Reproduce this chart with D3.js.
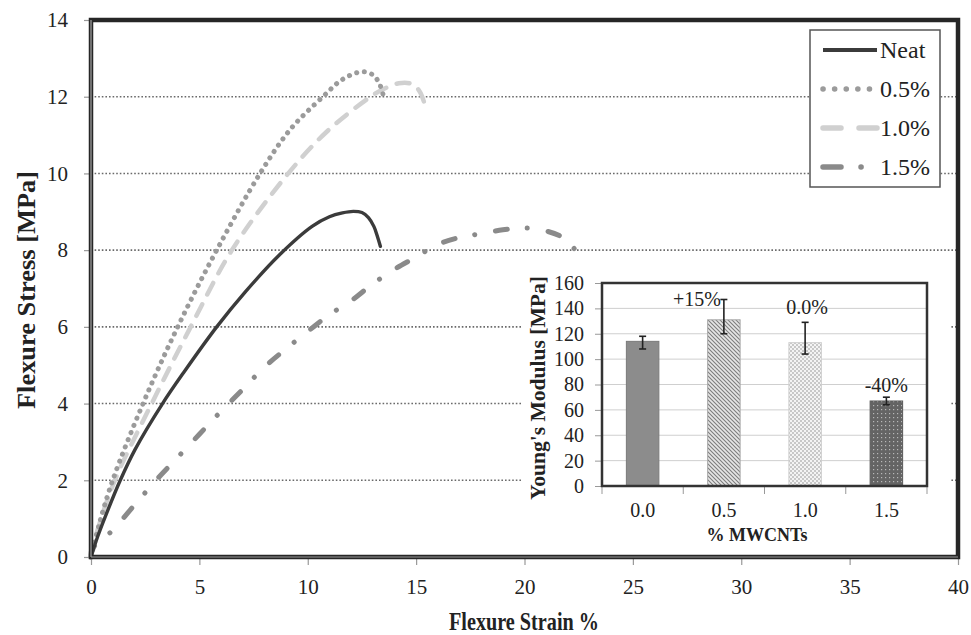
<!DOCTYPE html>
<html><head><meta charset="utf-8">
<script src="https://cdn.jsdelivr.net/npm/d3@7"></script>
<style>
html,body{margin:0;padding:0;background:#fff;}
svg{display:block;font-family:"Liberation Serif","Times New Roman",serif;}
svg text{font-family:"Liberation Serif","Times New Roman",serif;}
</style></head>
<body><svg id="c" width="971" height="635"></svg>
<script>
// ---------- data ----------
const seriesNames = ["Neat", "0.5%", "1.0%", "1.5%"];
const neatCurve = [[0,0],[0.3,0.52],[0.65,1.04],[1.35,2],[2.03,2.8],[3.3,4],[4.3,4.83],[5.8,6],[7.1,6.9],[8.7,7.88],[10.2,8.62],[11,8.87],[11.6,8.97],[12.1,9.01],[12.5,8.98],[12.8,8.85],[13.05,8.62],[13.2,8.38],[13.35,8.1]];
const cnt05Curve = [[0,0],[0.4,0.9],[1.0,2],[2.4,4],[4.0,6],[5.8,8],[7.8,10],[9.2,11.15],[10.7,12],[11.6,12.45],[12.5,12.65],[13.0,12.57],[13.3,12.35],[13.5,12.0]];
const cnt10Curve = [[0,0],[0.3,0.7],[1.1,2],[2.8,4],[4.6,6],[6.5,8],[9.1,10],[10.9,11.1],[12.9,12.0],[13.5,12.2],[14.2,12.35],[14.7,12.35],[15.0,12.25],[15.2,12.1],[15.4,11.8]];
const cnt15Curve = [[0,0],[0.05,0.2],[1,0.7],[2,1.35],[3,2.0],[4,2.6],[5,3.2],[6,3.8],[7,4.37],[8,4.95],[9,5.43],[10,5.88],[11,6.32],[12,6.68],[13,7.12],[14,7.5],[15,7.82],[16,8.15],[17,8.33],[18,8.43],[19,8.53],[20,8.58],[21,8.5],[21.7,8.35],[22.2,8.1],[22.8,7.66]];
const xTicks = [0,5,10,15,20,25,30,35,40];
const yTicks = [0,2,4,6,8,10,12,14];
const gridValues = [2,4,6,8,10,12];

const insetCategories = ["0.0","0.5","1.0","1.5"];
const modulus = [114,131,113,67];
const modulusErrLow = [108,120,104,64];
const modulusErrHigh = [118,147,129,70];
const changeLabels = ["", "+15%", "0.0%", "-40%"];
const insetTicks = [0,20,40,60,80,100,120,140,160];

// ---------- setup ----------
const SERIF = "Liberation Serif, Times New Roman, serif";
const svg = d3.select("#c");
const defs = svg.append("defs");
const x = d3.scaleLinear().domain([0,40]).range([91,958]);
const y = d3.scaleLinear().domain([0,14]).range([557,20]);

// gridlines
svg.append("g").selectAll("line").data(gridValues).join("line")
  .attr("x1", x(0)).attr("x2", x(40))
  .attr("y1", d=>y(d)).attr("y2", d=>y(d))
  .attr("stroke", "#6a6a6a").attr("stroke-width", 1.6)
  .attr("stroke-dasharray", "1.6,2");

// axes
const yAxis = svg.append("g").attr("transform", `translate(${x(0)},0)`)
  .call(d3.axisLeft(y).tickValues(yTicks).tickSize(7).tickPadding(16).tickFormat(d3.format("d")));
const xAxis = svg.append("g").attr("transform", `translate(0,${y(0)})`)
  .call(d3.axisBottom(x).tickValues(xTicks).tickSize(8).tickPadding(14).tickFormat(d3.format("d")));
[yAxis, xAxis].forEach(a => {
  a.attr("font-family", SERIF).attr("font-size", 21);
  a.select(".domain").remove();
  a.selectAll(".tick line").attr("stroke", "#999").attr("stroke-width", 1.2);
  a.selectAll(".tick text").attr("fill", "#222");
});

// curves
const line = d3.line().x(d=>x(d[0])).y(d=>y(d[1])).curve(d3.curveCatmullRom.alpha(0.5));
const styles = [
  {data: neatCurve, stroke:"#3b3b3b", w:3.4, dash:null, ldash:null},
  {data: cnt05Curve, stroke:"#9b9b9b", w:5, dash:"0.1,7.6", ldash:"0.1,11.5"},
  {data: cnt10Curve, stroke:"#d0d0d0", w:4.5, dash:"13,11", ldash:"18,18"},
  {data: cnt15Curve, stroke:"#8a8a8a", w:5, dash:"12,20,0.1,21", ldash:"18,20,0.1,30"}
];
const curvesG = svg.append("g");
styles.slice().reverse().forEach(s => {
  curvesG.append("path").attr("d", line(s.data)).attr("fill","none")
    .attr("stroke", s.stroke).attr("stroke-width", s.w)
    .attr("stroke-linecap", "round").attr("stroke-linejoin","round")
    .attr("stroke-dasharray", s.dash);
});

// frame
svg.append("rect").attr("x", x(0)).attr("y", y(14))
  .attr("width", x(40)-x(0)).attr("height", y(0)-y(14))
  .attr("fill","none").attr("stroke","#262626").attr("stroke-width",4.5);
svg.append("line").attr("x1", x(0)).attr("x2", x(0)).attr("y1", y(14)).attr("y2", y(0))
  .attr("stroke","#bbb").attr("stroke-width",1);
svg.append("line").attr("x1", x(0)).attr("x2", x(40)).attr("y1", y(0)).attr("y2", y(0))
  .attr("stroke","#999").attr("stroke-width",1);

// axis titles
svg.append("text").attr("x", 524).attr("y", 630).attr("text-anchor","middle")
  .attr("font-weight","bold").attr("font-size",25).attr("fill","#222")
  .attr("textLength",150).attr("lengthAdjust","spacingAndGlyphs")
  .text("Flexure Strain %");
svg.append("text").attr("transform","translate(35,290) rotate(-90)").attr("text-anchor","middle")
  .attr("font-weight","bold").attr("font-size",25).attr("fill","#222")
  .attr("textLength",238).attr("lengthAdjust","spacingAndGlyphs")
  .text("Flexure Stress [MPa]");

// legend
const lg = svg.append("g");
lg.append("rect").attr("x",810).attr("y",30).attr("width",130).attr("height",157)
  .attr("fill","#fff").attr("stroke","#555").attr("stroke-width",1.5);
const legY = [50,89,128,167];
styles.forEach((s,i) => {
  lg.append("line").attr("x1",823).attr("x2",877).attr("y1",legY[i]).attr("y2",legY[i])
    .attr("stroke",s.stroke).attr("stroke-width", i===0?4:5.5)
    .attr("stroke-linecap", i===0?"butt":"round").attr("stroke-dasharray", s.ldash);
  lg.append("text").attr("x",880).attr("y",legY[i]).attr("dy","0.33em")
    .attr("font-size",24).attr("fill","#222").text(seriesNames[i]);
});

// ---------- inset ----------
const ix = d3.scaleBand().domain(insetCategories).range([602,927]).paddingInner(0.6).paddingOuter(0.3);
const iy = d3.scaleLinear().domain([0,160]).range([486,283]);
const ins = svg.append("g");
ins.append("rect").attr("x",522).attr("y",268).attr("width",428).attr("height",282).attr("fill","#fff");

// patterns
const p1 = defs.append("pattern").attr("id","hatch").attr("patternUnits","userSpaceOnUse")
  .attr("width",4).attr("height",4);
p1.append("rect").attr("width",4).attr("height",4).attr("fill","#e6e6e6");
p1.append("path").attr("d","M-1,-1 L5,5 M-1,3 L1,5 M3,-1 L5,1").attr("stroke","#7d7d7d").attr("stroke-width",1.1);
const p2 = defs.append("pattern").attr("id","check").attr("patternUnits","userSpaceOnUse")
  .attr("width",4).attr("height",4);
p2.append("rect").attr("width",4).attr("height",4).attr("fill","#f4f4f4");
p2.append("rect").attr("width",2).attr("height",2).attr("fill","#c8c8c8");
p2.append("rect").attr("x",2).attr("y",2).attr("width",2).attr("height",2).attr("fill","#c8c8c8");
const p3 = defs.append("pattern").attr("id","dots").attr("patternUnits","userSpaceOnUse")
  .attr("width",4).attr("height",4);
p3.append("rect").attr("width",4).attr("height",4).attr("fill","#646464");
p3.append("rect").attr("x",1).attr("y",1).attr("width",1.2).attr("height",1.2).attr("fill","#b8b8b8");
const barFills = ["#8c8c8c","url(#hatch)","url(#check)","url(#dots)"];
const barStrokes = ["#7a7a7a","#aaa","#cfcfcf","#5a5a5a"];

// inset gridlines
ins.append("g").selectAll("line").data(insetTicks.filter(d=>d>0&&d<160)).join("line")
  .attr("x1",602).attr("x2",927).attr("y1",d=>iy(d)).attr("y2",d=>iy(d))
  .attr("stroke","#cfcfcf").attr("stroke-width",1);

// inset axes
const iya = ins.append("g").attr("transform","translate(602,0)")
  .call(d3.axisLeft(iy).tickValues(insetTicks).tickSize(7).tickPadding(11));
iya.attr("font-family", SERIF).attr("font-size", 20);
iya.select(".domain").remove();
iya.selectAll(".tick line").attr("stroke","#999");
iya.selectAll(".tick text").attr("fill","#222");

// category boundary ticks
const step = ix.step();
ins.append("g").selectAll("line").data(d3.range(5)).join("line")
  .attr("x1",d=>602+d*step).attr("x2",d=>602+d*step)
  .attr("y1",486).attr("y2",494).attr("stroke","#999").attr("stroke-width",1);
ins.append("g").selectAll("text").data(insetCategories).join("text")
  .attr("x",d=>ix(d)+ix.bandwidth()/2).attr("y",517).attr("text-anchor","middle")
  .attr("font-size",20).attr("fill","#222").text(d=>d);

// bars
ins.append("g").selectAll("rect").data(insetCategories).join("rect")
  .attr("x",d=>ix(d)).attr("width",ix.bandwidth())
  .attr("y",(d,i)=>iy(modulus[i])).attr("height",(d,i)=>iy(0)-iy(modulus[i]))
  .attr("fill",(d,i)=>barFills[i]).attr("stroke",(d,i)=>barStrokes[i]).attr("stroke-width",1);

// error bars
const eb = ins.append("g").attr("stroke","#222").attr("stroke-width",1.6);
insetCategories.forEach((c,i) => {
  const cx = ix(c)+ix.bandwidth()/2;
  eb.append("line").attr("x1",cx).attr("x2",cx).attr("y1",iy(modulusErrLow[i])).attr("y2",iy(modulusErrHigh[i]));
  eb.append("line").attr("x1",cx-3.5).attr("x2",cx+3.5).attr("y1",iy(modulusErrLow[i])).attr("y2",iy(modulusErrLow[i]));
  eb.append("line").attr("x1",cx-3.5).attr("x2",cx+3.5).attr("y1",iy(modulusErrHigh[i])).attr("y2",iy(modulusErrHigh[i]));
});

// change labels
const labelDx = [0,-27,2,0], labelDy = [0,0,-15,-12];
insetCategories.forEach((c,i) => {
  if (!changeLabels[i]) return;
  ins.append("text").attr("x", ix(c)+ix.bandwidth()/2+labelDx[i])
    .attr("y", iy(modulusErrHigh[i])+labelDy[i]).attr("dy","0.35em")
    .attr("text-anchor","middle").attr("font-size",20).attr("fill","#222").text(changeLabels[i]);
});

// inset frame
ins.append("rect").attr("x",602).attr("y",283).attr("width",325).attr("height",203)
  .attr("fill","none").attr("stroke","#333").attr("stroke-width",2.5);

// inset titles
ins.append("text").attr("x",757).attr("y",541).attr("text-anchor","middle")
  .attr("font-weight","bold").attr("font-size",18).attr("fill","#222").text("% MWCNTs");
ins.append("text").attr("transform","translate(545,388) rotate(-90)").attr("text-anchor","middle")
  .attr("font-weight","bold").attr("font-size",21).attr("fill","#222")
  .attr("textLength",224).attr("lengthAdjust","spacingAndGlyphs")
  .text("Young's Modulus [MPa]");
</script></body></html>
